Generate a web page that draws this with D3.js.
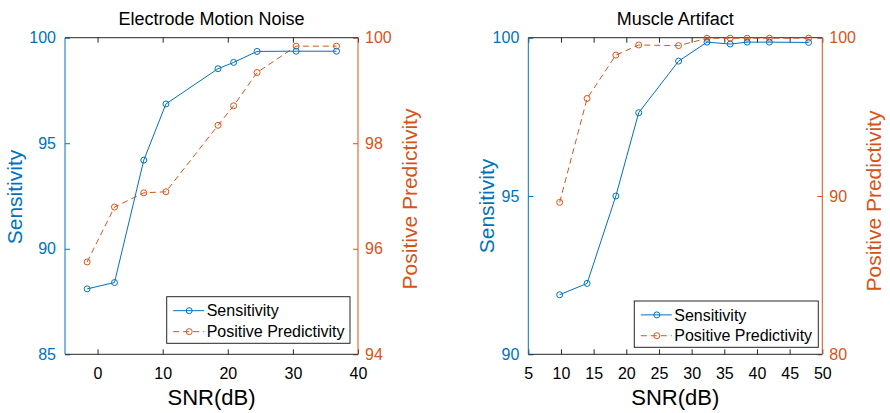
<!DOCTYPE html>
<html>
<head>
<meta charset="utf-8">
<script src="https://cdn.jsdelivr.net/npm/d3@7/dist/d3.min.js"></script>
<style>
  body { margin: 0; background: #fff; }
  svg { font-family: "Liberation Sans", Arial, Helvetica, sans-serif; }
</style>
</head>
<body>
<div id="vis"></div>
<script>
// Electrode motion noise panel
var emSnr = [-1.6, 2.6, 7.1, 10.5, 18.5, 20.9, 24.5, 30.5, 36.7];
var emSens = [88.1, 88.4, 94.2, 96.86, 98.53, 98.83, 99.35, 99.36, 99.36];
var emPP = [95.75, 96.79, 97.06, 97.08, 98.34, 98.71, 99.34, 99.84, 99.84];

// Muscle artifact panel
var maSnr = [9.8, 14, 18.4, 21.9, 28.0, 32.35, 35.9, 38.5, 41.9, 47.9];
var maSens = [91.88, 92.24, 95.0, 97.63, 99.26, 99.86, 99.8, 99.86, 99.86, 99.85];
var maPP = [89.6, 96.16, 98.9, 99.54, 99.5, 99.96, 99.97, 99.97, 99.97, 99.97];

var emXTicks = [0, 10, 20, 30, 40];
var maXTicks = [5, 10, 15, 20, 25, 30, 35, 40, 45, 50];

var blue = "#0072BD", orange = "#D95319", dark = "#262626";

var svg = d3.select("#vis").append("svg").attr("width", 890).attr("height", 413);

function drawPanel(p) {
    var x = d3.scaleLinear().domain(p.xDomain).range([p.left, p.right]);
    var yL = d3.scaleLinear().domain(p.yLDomain).range([p.bottom, p.top]);
    var yR = d3.scaleLinear().domain(p.yRDomain).range([p.bottom, p.top]);
    var fmt = d3.format("d");
    var g = svg.append("g");

    // x axis bottom (ticks pointing inward)
    var xb = g.append("g").attr("transform", "translate(0," + p.bottom + ")")
        .call(d3.axisBottom(x).tickValues(p.xTicks).tickFormat(fmt).tickSizeInner(-5).tickSizeOuter(0).tickPadding(13));
    xb.select(".domain").remove();
    xb.selectAll("line").attr("stroke", dark);
    xb.selectAll("text").attr("font-size", 16).attr("fill", "#000");

    var xt = g.append("g").attr("transform", "translate(0," + p.top + ")")
        .call(d3.axisTop(x).tickValues(p.xTicks).tickSizeInner(-5).tickSizeOuter(0).tickFormat(""));
    xt.select(".domain").remove();
    xt.selectAll("line").attr("stroke", dark);

    // left y axis
    var yl = g.append("g").attr("transform", "translate(" + p.left + ",0)")
        .call(d3.axisLeft(yL).tickValues(p.yLTicks).tickFormat(fmt).tickSizeInner(-5).tickSizeOuter(0).tickPadding(9));
    yl.select(".domain").remove();
    yl.selectAll("line").attr("stroke", blue);
    yl.selectAll("text").attr("font-size", 16).attr("fill", blue);

    // right y axis
    var yr = g.append("g").attr("transform", "translate(" + p.right + ",0)")
        .call(d3.axisRight(yR).tickValues(p.yRTicks).tickFormat(fmt).tickSizeInner(-5).tickSizeOuter(0).tickPadding(7));
    yr.select(".domain").remove();
    yr.selectAll("line").attr("stroke", orange);
    yr.selectAll("text").attr("font-size", 16).attr("fill", orange);

    // box edges
    g.append("line").attr("x1", p.left).attr("x2", p.right).attr("y1", p.top).attr("y2", p.top).attr("stroke", dark);
    g.append("line").attr("x1", p.left).attr("x2", p.right).attr("y1", p.bottom).attr("y2", p.bottom).attr("stroke", dark);
    g.append("line").attr("x1", p.left).attr("x2", p.left).attr("y1", p.top).attr("y2", p.bottom).attr("stroke", blue);
    g.append("line").attr("x1", p.right).attr("x2", p.right).attr("y1", p.top).attr("y2", p.bottom).attr("stroke", orange);

    // series
    var sens = p.snr.map(function(d, i) { return [d, p.sens[i]]; });
    var pp = p.snr.map(function(d, i) { return [d, p.pp[i]]; });
    var lineL = d3.line().x(function(d) { return x(d[0]); }).y(function(d) { return yL(d[1]); });
    var lineR = d3.line().x(function(d) { return x(d[0]); }).y(function(d) { return yR(d[1]); });

    g.append("path").datum(pp).attr("d", lineR).attr("fill", "none")
        .attr("stroke", orange).attr("stroke-width", 1).attr("stroke-dasharray", "6,4");
    g.selectAll(".ppm").data(pp).enter().append("circle")
        .attr("cx", function(d) { return x(d[0]); }).attr("cy", function(d) { return yR(d[1]); })
        .attr("r", 3).attr("fill", "none").attr("stroke", orange);

    g.append("path").datum(sens).attr("d", lineL).attr("fill", "none")
        .attr("stroke", blue).attr("stroke-width", 1);
    g.selectAll(".sm").data(sens).enter().append("circle")
        .attr("cx", function(d) { return x(d[0]); }).attr("cy", function(d) { return yL(d[1]); })
        .attr("r", 3).attr("fill", "none").attr("stroke", blue);

    // labels
    var cx = (p.left + p.right) / 2;
    g.append("text").attr("x", cx).attr("y", 24.5).attr("text-anchor", "middle")
        .attr("font-size", 18).attr("fill", "#000").text(p.title);
    g.append("text").attr("x", cx).attr("y", 405).attr("text-anchor", "middle")
        .attr("font-size", 22).attr("fill", "#000").text("SNR(dB)");
    g.append("text").attr("transform", "translate(" + p.yLabelX + "," + p.yLabelY + ") rotate(-90)")
        .attr("text-anchor", "middle").attr("font-size", 21).attr("fill", blue).text("Sensitivity");
    g.append("text").attr("transform", "translate(" + p.yRLabelX + "," + p.yRLabelY + ") rotate(-90)")
        .attr("text-anchor", "middle").attr("font-size", 21).attr("fill", orange).text("Positive Predictivity");

    // legend
    var L = p.legend;
    var lg = g.append("g");
    lg.append("rect").attr("x", L.x).attr("y", L.y).attr("width", L.w).attr("height", L.h)
        .attr("fill", "#fff").attr("stroke", dark).attr("stroke-width", 1);
    var rows = [
        { name: "Sensitivity", color: blue, dash: null, y: L.y + L.h * 0.30 },
        { name: "Positive Predictivity", color: orange, dash: "6,4", y: L.y + L.h * 0.75 }
    ];
    rows.forEach(function(r) {
        lg.append("line").attr("x1", L.x + 6.5).attr("x2", L.x + 37.5).attr("y1", r.y).attr("y2", r.y)
            .attr("stroke", r.color).attr("stroke-dasharray", r.dash);
        lg.append("circle").attr("cx", L.x + 22.5).attr("cy", r.y).attr("r", 3)
            .attr("fill", "none").attr("stroke", r.color);
        lg.append("text").attr("x", L.x + 40).attr("y", r.y).attr("dy", "0.36em")
            .attr("font-size", 16).attr("fill", "#000").text(r.name);
    });
}

drawPanel({
    title: "Electrode Motion Noise",
    left: 65, right: 358, top: 37.7, bottom: 354.3,
    xDomain: [-5, 40], xTicks: emXTicks,
    yLDomain: [85, 100], yLTicks: [85, 90, 95, 100],
    yRDomain: [94, 100], yRTicks: [94, 96, 98, 100],
    snr: emSnr, sens: emSens, pp: emPP,
    yLabelX: 21.5, yLabelY: 197,
    yRLabelX: 417, yRLabelY: 199,
    legend: { x: 166.7, y: 296.7, w: 183.3, h: 46.6 }
});

drawPanel({
    title: "Muscle Artifact",
    left: 528.3, right: 822.3, top: 37.7, bottom: 354.3,
    xDomain: [5, 50], xTicks: maXTicks,
    yLDomain: [90, 100], yLTicks: [90, 95, 100],
    yRDomain: [80, 100], yRTicks: [80, 90, 100],
    snr: maSnr, sens: maSens, pp: maPP,
    yLabelX: 494, yLabelY: 206,
    yRLabelX: 881, yRLabelY: 201,
    legend: { x: 634.3, y: 301, w: 184, h: 46.3 }
});
</script>
</body>
</html>
